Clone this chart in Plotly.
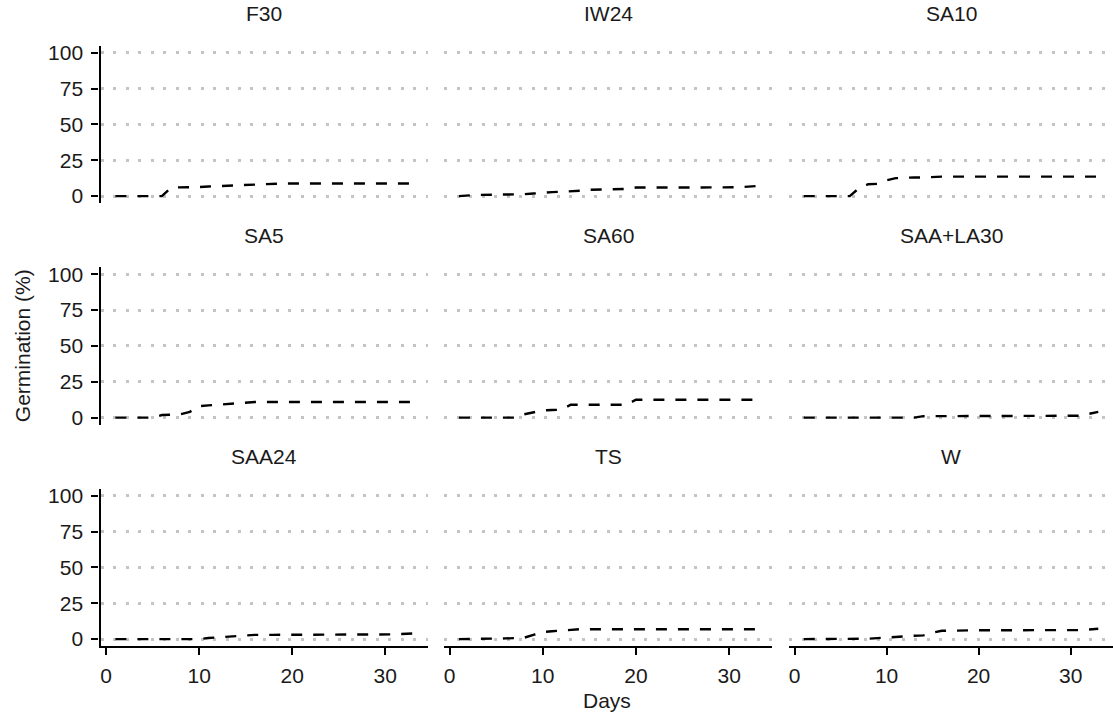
import plotly.graph_objects as go

# ---- data -----------------------------------------------------------------
days = [1, 3, 5, 6, 7, 8, 9, 10, 11, 12, 13, 14, 15, 16, 18, 19, 20, 21, 24, 27, 30, 31, 33]

treatments = ["F30", "IW24", "SA10", "SA5", "SA60", "SAA+LA30", "SAA24", "TS", "W"]

F30      = [0, 0, 0, 0, 6, 6, 6, 6.3, 6.7, 7, 7.5, 7.7, 8, 8.3, 8.8, 8.8, 8.8, 8.8, 8.8, 8.8, 8.8, 8.8, 8.8]
IW24     = [0, 0.8, 1, 1, 1, 1.3, 1.8, 2.5, 2.8, 3, 3.2, 3.7, 4.4, 4.6, 4.9, 5, 6, 6.1, 6, 6, 6, 6.2, 7]
SA10     = [0, 0, 0, 0, 5.5, 8.3, 8.5, 11, 12.5, 12.9, 13, 13, 13.5, 13.6, 13.6, 13.6, 13.6, 13.6, 13.6, 13.6, 13.6, 13.6, 13.6]
SA5      = [0, 0, 0, 1.8, 1.8, 2.3, 4, 8, 8.5, 9, 9.9, 9.9, 10.4, 10.9, 10.9, 10.9, 10.9, 10.9, 10.9, 10.9, 10.9, 10.9, 10.9]
SA60     = [0, 0, 0, 0, 0, 2.3, 3.7, 5, 5.3, 5.5, 9, 9, 9, 9, 9, 9, 12.5, 12.5, 12.5, 12.5, 12.5, 12.5, 12.5]
SAA_LA30 = [0, 0, 0, 0, 0, 0, 0, 0, 0, 0, 0, 1, 1, 1, 1, 1, 1, 1, 1, 1, 1, 1.3, 4]
SAA24    = [0, 0, 0, 0, 0, 0, 0, 0, 0.8, 1.3, 2, 2.5, 3, 3, 3, 3, 3, 3, 3, 3, 3, 3.3, 4]
TS       = [0, 0, 0, 0.5, 0.7, 1, 3, 5, 5.5, 6, 6.9, 6.9, 6.9, 6.9, 6.9, 6.9, 6.9, 6.9, 6.9, 6.9, 6.9, 6.9, 6.9]
W        = [0, 0, 0, 0, 0, 0.3, 0.7, 1.2, 1.6, 1.8, 2.4, 2.6, 4.5, 5.8, 6.2, 6.2, 6.2, 6.2, 6.2, 6.2, 6.2, 6.3, 7.2]

series = [F30, IW24, SA10, SA5, SA60, SAA_LA30, SAA24, TS, W]

y_ticks = [0, 25, 50, 75, 100]
x_ticks = [0, 10, 20, 30]

# ---- layout geometry (pixels) ---------------------------------------------
W_PX, H_PX = 1113, 722
cols = [(100.5, 428), (444, 772), (789, 1113)]
rows = [(42, 201.5), (266, 425.5), (490, 649.5)]

FONT = "Liberation Sans, Arial, sans-serif"
TXT = "#1a1a1a"

fig = go.Figure()
layout = dict(
    width=W_PX, height=H_PX,
    margin=dict(l=0, r=0, t=0, b=0),
    paper_bgcolor="white", plot_bgcolor="white",
    showlegend=False,
    font=dict(family=FONT, size=21, color=TXT),
)
annotations = []

for i, (name, vals) in enumerate(zip(treatments, series)):
    r, c = divmod(i, 3)
    k = i + 1
    xa = "x" if k == 1 else f"x{k}"
    ya = "y" if k == 1 else f"y{k}"
    fig.add_trace(go.Scatter(
        x=days, y=vals, mode="lines", xaxis=xa, yaxis=ya,
        line=dict(color="black", width=2.4, dash="11px,11px"),
        hoverinfo="skip",
    ))
    x0, x1 = cols[c]
    y0, y1 = rows[r]
    bottom = (r == 2)
    left = (c == 0)
    layout["xaxis" if k == 1 else f"xaxis{k}"] = dict(
        domain=[x0 / W_PX, x1 / W_PX], anchor=ya,
        range=[-0.6, 34.6], tickvals=x_ticks,
        showgrid=False, zeroline=False,
        showline=bottom, linecolor="black", linewidth=2.3,
        ticks="outside" if bottom else "", ticklen=7, tickwidth=2.3, tickcolor="black",
        showticklabels=bottom, tickfont=dict(size=21, color=TXT, family=FONT),
        ticklabelstandoff=2,
        fixedrange=True,
    )
    layout["yaxis" if k == 1 else f"yaxis{k}"] = dict(
        domain=[1 - y1 / H_PX, 1 - y0 / H_PX], anchor=xa,
        range=[-5, 105], tickvals=y_ticks,
        showgrid=True, gridcolor="#c4c4c4", gridwidth=2.6, griddash="3px,9.5px",
        zeroline=False,
        showline=left, linecolor="black", linewidth=2.3,
        ticks="outside" if left else "", ticklen=7, tickwidth=2.3, tickcolor="black",
        showticklabels=left, tickfont=dict(size=21, color=TXT, family=FONT),
        ticklabelstandoff=4,
        fixedrange=True,
    )
    annotations.append(dict(
        text=name, x=(x0 + x1) / 2 / W_PX, y=1 - (y0 - 32) / H_PX,
        xref="paper", yref="paper", xanchor="center", yanchor="middle",
        showarrow=False, font=dict(size=21, color=TXT, family=FONT),
    ))

annotations.append(dict(
    text="Days", x=(100 + 1113) / 2 / W_PX, y=1 - 704 / H_PX,
    xref="paper", yref="paper", xanchor="center", yanchor="middle",
    showarrow=False, font=dict(size=21, color=TXT, family=FONT),
))
annotations.append(dict(
    text="Germination (%)", x=22 / W_PX, y=1 - 346 / H_PX, textangle=-90,
    xref="paper", yref="paper", xanchor="center", yanchor="middle",
    showarrow=False, font=dict(size=21, color=TXT, family=FONT),
))
layout["annotations"] = annotations
fig.update_layout(**layout)
fig.write_html("out.html")
